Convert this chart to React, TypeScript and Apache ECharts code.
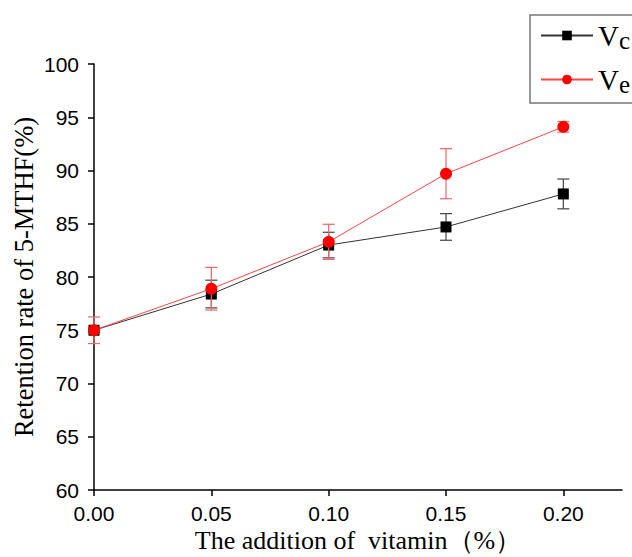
import React, { useEffect, useRef } from "react";
import * as echarts from "echarts";

const xValues = [0, 0.05, 0.1, 0.15, 0.2];
const vcValues = [75.0, 78.4, 83.0, 84.7, 87.8];
const vcErrors = [0.2, 1.3, 1.2, 1.25, 1.4];
const veValues = [75.0, 78.9, 83.3, 89.7, 94.1];
const veErrors = [1.25, 2.0, 1.65, 2.35, 0.5];
const xTicks = [0, 0.05, 0.1, 0.15, 0.2];
const yTicks = [60, 65, 70, 75, 80, 85, 90, 95, 100];

const toPoints = (vals: number[]) => xValues.map((x, i) => [x, vals[i]]);
const toErr = (vals: number[], errs: number[]) =>
  xValues.map((x, i) => [x, vals[i] - errs[i], vals[i] + errs[i]]);

const errRender = (color: string) => (params: any, api: any) => {
  const x = api.value(0);
  const lo = api.coord([x, api.value(1)]);
  const hi = api.coord([x, api.value(2)]);
  const w = 6;
  const style = { stroke: color, lineWidth: 1.2 };
  return {
    type: "group",
    children: [
      { type: "line", shape: { x1: lo[0], y1: lo[1], x2: hi[0], y2: hi[1] }, style },
      { type: "line", shape: { x1: lo[0] - w, y1: lo[1], x2: lo[0] + w, y2: lo[1] }, style },
      { type: "line", shape: { x1: hi[0] - w, y1: hi[1], x2: hi[0] + w, y2: hi[1] }, style },
    ],
  };
};

export default function App() {
  const ref = useRef<HTMLDivElement>(null);
  useEffect(() => {
    if (!ref.current) return;
    const chart = echarts.init(ref.current, null, { renderer: "svg" });
    const sans = "Liberation Sans";
    const serif = "Liberation Serif";
    chart.setOption({
      animation: false,
      backgroundColor: "#fff",
      grid: { left: 94, top: 64, right: 10, bottom: 67, containLabel: false, outerBoundsMode: "none" },
      legend: {
        left: 530,
        top: 15,
        orient: "vertical",
        data: ["Vc", "Ve"],
        itemWidth: 52,
        itemHeight: 12,
        itemGap: 12,
        padding: [6, 60, 6, 10],
        borderColor: "#777",
        borderWidth: 1.5,
        borderRadius: 0,
        formatter: (name: string) => `{v|V}{s|${name.slice(1)}}`,
        textStyle: {
          rich: {
            v: { fontFamily: serif, fontSize: 29, color: "#000", height: 32 },
            s: { fontFamily: serif, fontSize: 25, color: "#000", padding: [10, 0, 0, 0] },
          },
        },
      },
      xAxis: {
        type: "value",
        min: 0,
        max: 0.225,
        interval: 0.05,
        name: "The addition of  vitamin（%）",
        nameLocation: "middle",
        nameGap: 37,
        nameMoveOverlap: false,
        nameTextStyle: { fontFamily: serif, fontSize: 26, color: "#000" },
        axisLine: { lineStyle: { color: "#000", width: 1.5 } },
        axisTick: { customValues: xTicks, length: 6, lineStyle: { color: "#000", width: 1.5 } },
        axisLabel: {
          customValues: xTicks,
          fontFamily: sans,
          fontSize: 21,
          color: "#000",
          margin: 13,
          formatter: (v: number) => v.toFixed(2),
        },
        splitLine: { show: false },
      },
      yAxis: {
        type: "value",
        min: 60,
        max: 100,
        interval: 5,
        name: "Retention rate of 5-MTHF(%)",
        nameLocation: "middle",
        nameGap: 57,
        nameMoveOverlap: false,
        nameTextStyle: { fontFamily: serif, fontSize: 26.5, color: "#000" },
        axisLine: { show: true, lineStyle: { color: "#000", width: 1.5 } },
        axisTick: { show: true, customValues: yTicks, length: 6, lineStyle: { color: "#000", width: 1.5 } },
        axisLabel: { customValues: yTicks, fontFamily: sans, fontSize: 21, color: "#000", margin: 15 },
        splitLine: { show: false },
      },
      series: [
        {
          type: "custom",
          name: "VcErr",
          renderItem: errRender("#444"),
          data: toErr(vcValues, vcErrors),
          z: 1,
        },
        {
          name: "Vc",
          type: "line",
          data: toPoints(vcValues),
          symbol: "rect",
          symbolSize: 11,
          itemStyle: { color: "#000" },
          lineStyle: { color: "#333", width: 1 },
          z: 2,
        },
        {
          type: "custom",
          name: "VeErr",
          renderItem: errRender("#ee6666"),
          data: toErr(veValues, veErrors),
          z: 3,
        },
        {
          name: "Ve",
          type: "line",
          data: toPoints(veValues),
          symbol: "circle",
          symbolSize: 12,
          itemStyle: { color: "#ff0000" },
          lineStyle: { color: "#ff4444", width: 1 },
          z: 4,
        },
      ],
    });
    return () => chart.dispose();
  }, []);
  return <div ref={ref} style={{ width: 632, height: 557, position: "absolute", left: 0, top: 0 }} />;
}
